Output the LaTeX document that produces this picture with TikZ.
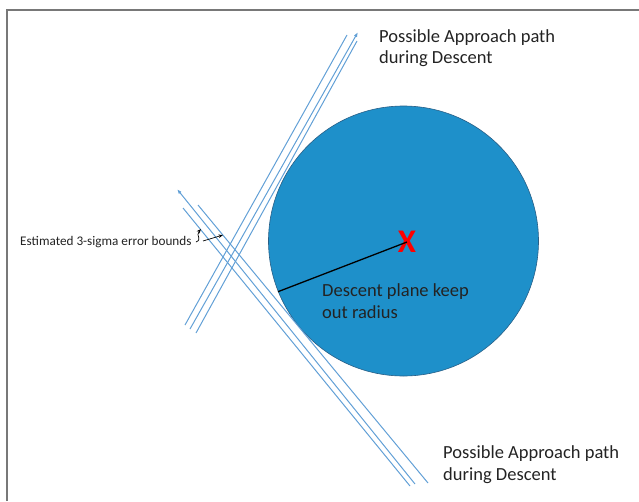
\documentclass[tikz,border=0pt]{standalone}
\usepackage{fontspec}
\setmainfont{Carlito}
\usetikzlibrary{arrows.meta}
\definecolor{pathblue}{RGB}{98,160,214}
\definecolor{discfill}{RGB}{30,144,202}
\definecolor{discedge}{RGB}{40,95,135}
\definecolor{labelgray}{RGB}{35,35,35}
\definecolor{framegray}{RGB}{120,120,120}
\tikzset{
  approach/.style={draw=pathblue, line width=1pt},
  approacharrow/.style={approach, -{Latex[length=5pt,width=3.5pt]}},
  biglabel/.style={font=\fontsize{18.5}{21}\selectfont, text=labelgray, inner sep=0pt, anchor=base west},
  smalllabel/.style={font=\fontsize{13.2}{14}\selectfont, text=labelgray, inner sep=0pt, anchor=base west},
  pointer/.style={draw=black, line width=0.7pt, -{Stealth[length=4.5pt,width=3.5pt]}}
}
\begin{document}
\begin{tikzpicture}[x=1pt,y=-1pt]
\useasboundingbox (0,0) rectangle (639,501);
% frame
\draw[framegray, line width=2pt] (7,501) -- (7,10) -- (639,10);
% keep-out disc
\node[circle, draw=discedge, fill=discfill, line width=0.6pt, minimum size=270pt, inner sep=0pt] (keepout) at (403.5,241) {};
\node[font=\bfseries\fontsize{33}{33}\selectfont, text=red, inner sep=0pt] (xmark) at (407,242) {X};
\draw[black, line width=1.3pt] (xmark.center) -- (keepout.202);
\node[biglabel] (kol1) at (322,296) {Descent plane keep};
\node[biglabel] (kol2) at (322,318) {out radius};
% NE approach corridor
\coordinate (a1) at (185,325); \coordinate (a2) at (347,35);
\coordinate (b1) at (190,329); \coordinate (b2) at (358,32);
\coordinate (c1) at (196,333); \coordinate (c2) at (357,41);
\draw[approach] (a1) -- (a2);
\draw[approacharrow] (b1) -- (b2);
\draw[approach] (c1) -- (c2);
% NW-SE approach corridor
\coordinate (l1) at (183,208); \coordinate (l2) at (410,486);
\coordinate (m1) at (415,484); \coordinate (m2) at (177,189);
\coordinate (r1) at (198,205); \coordinate (r2) at (428,483);
\draw[approach] (l1) -- (l2);
\draw[approacharrow] (m1) -- (m2);
\draw[approach] (r1) -- (r2);
% labels
\node[biglabel] (top1) at (379,42) {Possible Approach path};
\node[biglabel] (top2) at (379,63) {during Descent};
\node[biglabel] (bot1) at (443,458) {Possible Approach path};
\node[biglabel] (bot2) at (443,480) {during Descent};
\node[smalllabel] (sigma) at (20,245) {Estimated 3-sigma error bounds};
\coordinate (s1) at (196,242);
\coordinate (s2) at (201,229);
\coordinate (s3) at (203,241);
\coordinate (s4) at (223,235);
\draw[pointer] (s1) .. controls (203,239) and (195,236) .. (s2);
\draw[pointer] (s3) -- (s4);
\end{tikzpicture}
\end{document}
